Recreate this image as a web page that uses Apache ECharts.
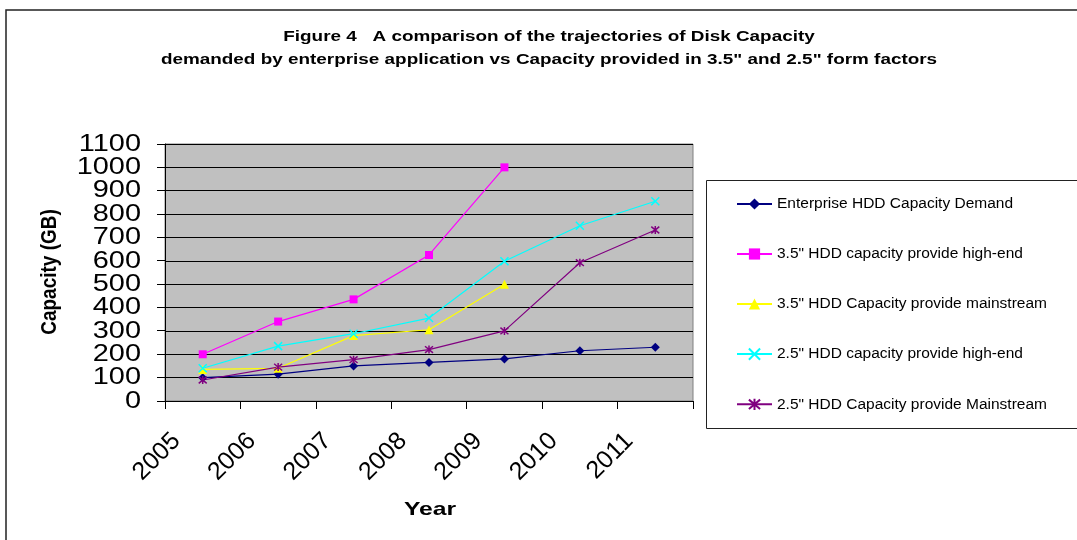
<!DOCTYPE html>
<html>
<head>
<meta charset="utf-8">
<script src="https://cdn.jsdelivr.net/npm/echarts@6/dist/echarts.min.js"></script>
<style>
  html, body { margin: 0; padding: 0; background: #fff; }
  #chart { width: 1077px; height: 540px; }
</style>
</head>
<body>
<div id="chart"></div>
<script>
// Years on the category axis
var years = ['2005', '2006', '2007', '2008', '2009', '2010', '2011'];

// Capacity values in GB (null = no data for that year)
var demand        = [100, 115, 150, 165, 180, 215, 230];
var hdd35HighEnd  = [200, 340, 435, 625, 1000, null, null];
var hdd35Main     = [135, 140, 280, 305, 500, null, null];
var hdd25HighEnd  = [140, 235, 288, 355, 598, 750, 855];
var hdd25Main     = [90, 145, 177, 220, 300, 592, 732];

// Value-axis tick labels
var yTicks = [0, 100, 200, 300, 400, 500, 600, 700, 800, 900, 1000, 1100];

var seriesNames = [
  'Enterprise HDD Capacity Demand',
  '3.5" HDD capacity provide high-end',
  '3.5" HDD Capacity provide mainstream',
  '2.5" HDD capacity provide high-end',
  '2.5" HDD Capacity provide Mainstream'
];

var titleLines = [
  'Figure 4   A comparison of the trajectories of Disk Capacity',
  'demanded by enterprise application vs Capacity provided in 3.5" and 2.5" form factors'
];
var xAxisTitle = 'Year';
var yAxisTitle = 'Capacity (GB)';

var FONT = '"Liberation Sans", Arial, sans-serif';
var CROSS = 'path://M0,0L10,10M10,0L0,10';
var STAR = 'path://M0,0L10,10M10,0L0,10M5,-1L5,11';
var WIDE = 1.26; // horizontal stretch of the heading texts

function lineSeries(name, data, color, symbol, size, stroked) {
  return {
    name: name,
    type: 'line',
    data: data,
    symbol: symbol,
    symbolSize: size,
    showAllSymbol: true,
    connectNulls: false,
    lineStyle: { color: color, width: 1.2 },
    itemStyle: stroked
      ? { color: 'none', borderColor: color, borderWidth: 1.5 }
      : { color: color, borderWidth: 0 },
    emphasis: { disabled: true },
    z: 3
  };
}

function label(text, x, y, size, opts) {
  opts = opts || {};
  return {
    type: 'text',
    x: x, y: y,
    rotation: opts.rotation || 0,
    scaleX: opts.scaleX || 1,
    scaleY: opts.scaleY || 1,
    silent: true,
    z: 5,
    style: {
      text: text,
      x: 0, y: 0,
      align: opts.align || 'center',
      verticalAlign: 'middle',
      fontFamily: FONT,
      fontSize: size,
      fontWeight: opts.weight || 'bold',
      fill: '#000'
    }
  };
}

var baseGraphics = [
  // outer chart frame
  { type: 'rect', shape: { x: 6, y: 10, width: 1100, height: 560 },
    style: { fill: 'none', stroke: '#222', lineWidth: 1.5 }, z: 0, silent: true },
  // legend frame
  { type: 'rect', shape: { x: 706.5, y: 180.5, width: 400, height: 248 },
    style: { fill: 'none', stroke: '#222', lineWidth: 1 }, z: 0, silent: true },
  label(titleLines[0], 549, 37, 15, { scaleX: WIDE }),
  label(titleLines[1], 549, 60, 15, { scaleX: WIDE }),
  label(xAxisTitle, 430, 510, 19, { scaleX: 1.3 }),
  label(yAxisTitle, 50, 272, 19, { rotation: Math.PI / 2, scaleY: 1.2 })
];

var chart = echarts.init(document.getElementById('chart'), null, { renderer: 'canvas' });

chart.setOption({
  animation: false,
  backgroundColor: '#ffffff',
  textStyle: { fontFamily: FONT },
  graphic: baseGraphics,
  legend: {
    orient: 'vertical',
    left: 736,
    top: 196,
    padding: 0,
    itemWidth: 35,
    itemHeight: 14,
    itemGap: 34,
    textStyle: { fontFamily: FONT, fontSize: 15.5, color: '#000' },
    data: seriesNames
  },
  grid: {
    left: 165, right: 384, top: 144, bottom: 139,
    show: true,
    backgroundColor: '#c0c0c0',
    borderColor: '#808080',
    borderWidth: 1
  },
  xAxis: {
    type: 'category',
    data: years,
    boundaryGap: true,
    axisLine: { lineStyle: { color: '#000', width: 1 } },
    axisTick: { show: true, length: 8, lineStyle: { color: '#000' } },
    axisLabel: {
      rotate: 45,
      margin: 10,
      padding: [0, 37, 0, 0],
      fontFamily: FONT,
      fontSize: 25,
      color: '#000'
    },
    splitLine: { show: false }
  },
  yAxis: {
    type: 'value',
    min: yTicks[0],
    max: yTicks[yTicks.length - 1],
    interval: yTicks[1] - yTicks[0],
    axisLine: { show: true, onZero: false, lineStyle: { color: '#000', width: 1 } },
    axisTick: { show: false },
    axisLabel: { show: false },
    splitLine: { show: true, lineStyle: { color: '#000', width: 1 } }
  },
  series: [
    lineSeries(seriesNames[0], demand, '#000080', 'diamond', 9, false),
    lineSeries(seriesNames[1], hdd35HighEnd, '#ff00ff', 'rect', 8, false),
    lineSeries(seriesNames[2], hdd35Main, '#ffff00', 'triangle', 9, false),
    lineSeries(seriesNames[3], hdd25HighEnd, '#00ffff', CROSS, 8, true),
    lineSeries(seriesNames[4], hdd25Main, '#800080', STAR, 8, true)
  ]
});

// Value-axis ticks and wide tick labels, placed through the axis scale
var step = chart.convertToPixel({ xAxisIndex: 0 }, years[1]) - chart.convertToPixel({ xAxisIndex: 0 }, years[0]);
var axisX = Math.round(chart.convertToPixel({ xAxisIndex: 0 }, years[0]) - step / 2);
var tickGraphics = [];
yTicks.forEach(function (v) {
  var py = chart.convertToPixel({ yAxisIndex: 0 }, v);
  tickGraphics.push({
    type: 'rect',
    shape: { x: axisX - 8, y: Math.round(py - 0.5), width: 8, height: 1 },
    style: { fill: '#000', stroke: null },
    silent: true, z: 10
  });
  tickGraphics.push(label(String(v), axisX - 24, py, 24.5, { align: 'right', weight: 'normal', scaleX: 1.18 }));
});

chart.setOption({ graphic: baseGraphics.concat(tickGraphics) });
</script>
</body>
</html>
